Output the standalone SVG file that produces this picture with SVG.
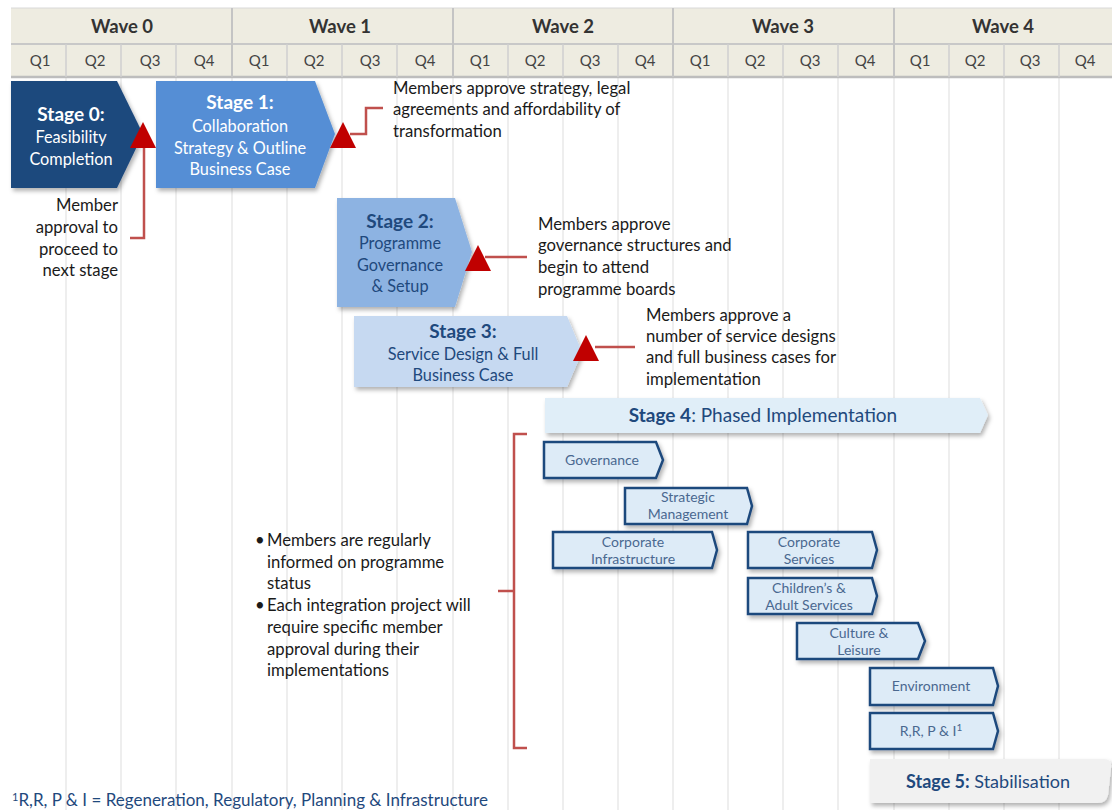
<svg xmlns="http://www.w3.org/2000/svg" width="1112" height="810" viewBox="0 0 1112 810">
<defs>
<filter id="sh" x="-10%" y="-10%" width="130%" height="140%">
<feDropShadow dx="2" dy="3" stdDeviation="2" flood-color="#000" flood-opacity="0.3"/>
</filter>
<symbol id="tri" overflow="visible"><polygon points="-13,13 13,13 0,-13" fill="#C00000"/></symbol>
</defs>
<style>
text{font-family:Lato,"Liberation Sans",sans-serif}
.wave{font-size:18.5px;font-weight:bold;fill:#333;text-anchor:middle}
.q{font-size:15px;fill:#444;text-anchor:middle}
.hdr{fill:#EEECE1}
.qsep{stroke:#CFCFCF;stroke-width:1.5}
.wsep{stroke:#C4C4C4;stroke-width:2}
.grid{stroke:#E9E9E9;stroke-width:1.5}
.st-w{fill:#fff;text-anchor:middle;font-size:16.3px}
.st-b{fill:#1F497D;text-anchor:middle;font-size:16.3px}
.bold{font-weight:bold;font-size:19px}
.note{fill:#1a1a1a;font-size:16.7px}
.sb{fill:#DDEBF7;stroke:#1F497D;stroke-width:2.5;filter:url(#sh)}
.sbt{fill:#4A6890;font-size:14px;text-anchor:middle}
.red{stroke:#C0504D;stroke-width:2.5;fill:none}
</style>
<rect width="1112" height="810" fill="#fff"/>
<g id="grid">
<line class="grid" x1="66" y1="77" x2="66" y2="810"/><line class="grid" x1="121" y1="77" x2="121" y2="810"/><line class="grid" x1="176" y1="77" x2="176" y2="810"/><line class="grid" x1="232" y1="77" x2="232" y2="810"/><line class="grid" x1="287" y1="77" x2="287" y2="810"/><line class="grid" x1="342" y1="77" x2="342" y2="810"/><line class="grid" x1="397" y1="77" x2="397" y2="810"/><line class="grid" x1="453" y1="77" x2="453" y2="810"/><line class="grid" x1="508" y1="77" x2="508" y2="810"/><line class="grid" x1="563" y1="77" x2="563" y2="810"/><line class="grid" x1="618" y1="77" x2="618" y2="810"/><line class="grid" x1="673" y1="77" x2="673" y2="810"/><line class="grid" x1="728" y1="77" x2="728" y2="810"/><line class="grid" x1="783" y1="77" x2="783" y2="810"/><line class="grid" x1="838" y1="77" x2="838" y2="810"/><line class="grid" x1="894" y1="77" x2="894" y2="810"/><line class="grid" x1="949" y1="77" x2="949" y2="810"/><line class="grid" x1="1004" y1="77" x2="1004" y2="810"/><line class="grid" x1="1059" y1="77" x2="1059" y2="810"/>
</g>
<g id="header">
<rect class="hdr" x="11" y="8" width="1101" height="69"/>
<line x1="11" y1="8" x2="1112" y2="8" stroke="#D8D8D8" stroke-width="1"/>
<line x1="11" y1="44" x2="1112" y2="44" stroke="#C8C8C8" stroke-width="2"/>
<line x1="11" y1="77" x2="1112" y2="77" stroke="#BDBDBD" stroke-width="2.5"/>
<g>
<line class="qsep" x1="66" y1="44" x2="66" y2="77"/><line class="qsep" x1="121" y1="44" x2="121" y2="77"/><line class="qsep" x1="176" y1="44" x2="176" y2="77"/><line class="qsep" x1="287" y1="44" x2="287" y2="77"/><line class="qsep" x1="342" y1="44" x2="342" y2="77"/><line class="qsep" x1="397" y1="44" x2="397" y2="77"/><line class="qsep" x1="508" y1="44" x2="508" y2="77"/><line class="qsep" x1="563" y1="44" x2="563" y2="77"/><line class="qsep" x1="618" y1="44" x2="618" y2="77"/><line class="qsep" x1="728" y1="44" x2="728" y2="77"/><line class="qsep" x1="783" y1="44" x2="783" y2="77"/><line class="qsep" x1="838" y1="44" x2="838" y2="77"/><line class="qsep" x1="949" y1="44" x2="949" y2="77"/><line class="qsep" x1="1004" y1="44" x2="1004" y2="77"/><line class="qsep" x1="1059" y1="44" x2="1059" y2="77"/>
<line class="wsep" x1="232" y1="8" x2="232" y2="77"/><line class="wsep" x1="453" y1="8" x2="453" y2="77"/><line class="wsep" x1="673" y1="8" x2="673" y2="77"/><line class="wsep" x1="894" y1="8" x2="894" y2="77"/>
</g>
<text class="wave" x="122" y="33">Wave 0</text>
<text class="wave" x="340" y="33">Wave 1</text>
<text class="wave" x="563" y="33">Wave 2</text>
<text class="wave" x="783" y="33">Wave 3</text>
<text class="wave" x="1003" y="33">Wave 4</text>
<text class="q" x="40" y="66">Q1</text><text class="q" x="95" y="66">Q2</text><text class="q" x="150" y="66">Q3</text><text class="q" x="204" y="66">Q4</text>
<text class="q" x="259" y="66">Q1</text><text class="q" x="314" y="66">Q2</text><text class="q" x="370" y="66">Q3</text><text class="q" x="425" y="66">Q4</text>
<text class="q" x="480" y="66">Q1</text><text class="q" x="535" y="66">Q2</text><text class="q" x="590" y="66">Q3</text><text class="q" x="645" y="66">Q4</text>
<text class="q" x="700" y="66">Q1</text><text class="q" x="755" y="66">Q2</text><text class="q" x="810" y="66">Q3</text><text class="q" x="865" y="66">Q4</text>
<text class="q" x="920" y="66">Q1</text><text class="q" x="975" y="66">Q2</text><text class="q" x="1030" y="66">Q3</text><text class="q" x="1085" y="66">Q4</text>
</g>

<g id="stage0">
<path d="M11,81 H117 L143,134 L117,188 H11 Z" fill="#1F497D" filter="url(#sh)"/>
<text class="st-w" x="71" y="121"><tspan class="bold">Stage 0:</tspan></text>
<text class="st-w" x="71" y="143">Feasibility</text>
<text class="st-w" x="71" y="165">Completion</text>
</g>
<g id="stage1">
<path d="M156,81 H315 L335,134 L315,188 H156 Z" fill="#558ED5" filter="url(#sh)"/>
<text class="st-w" x="240" y="109"><tspan class="bold">Stage 1:</tspan></text>
<text class="st-w" x="240" y="132">Collaboration</text>
<text class="st-w" x="240" y="154">Strategy &amp; Outline</text>
<text class="st-w" x="240" y="175">Business Case</text>
</g>
<g id="stage2">
<path d="M337,198 H455 L472,252 L455,307 H337 Z" fill="#8DB3E2" filter="url(#sh)"/>
<text class="st-b" x="400" y="228"><tspan class="bold">Stage 2:</tspan></text>
<text class="st-b" x="400" y="249">Programme</text>
<text class="st-b" x="400" y="271">Governance</text>
<text class="st-b" x="400" y="292">&amp; Setup</text>
</g>
<g id="stage3">
<path d="M354,316 H567 L582,352 L567,387 H354 Z" fill="#C6D9F1" filter="url(#sh)"/>
<text class="st-b" x="463" y="338"><tspan class="bold">Stage 3:</tspan></text>
<text class="st-b" x="463" y="360">Service Design &amp; Full</text>
<text class="st-b" x="463" y="381">Business Case</text>
</g>
<g id="stage4">
<path d="M545,398 H980 L988,415 L980,433 H545 Z" fill="#E0EEF8" filter="url(#sh)"/>
<text class="st-b" x="763" y="422" style="font-size:19px"><tspan font-weight="bold">Stage 4</tspan>: Phased Implementation</text>
</g>

<g id="governance"><path class="sb" d="M544,442 H656 L663,460 L656,478 H544 Z"/><text class="sbt" x="602" y="465">Governance</text></g>
<g id="strategic-management"><path class="sb" d="M625,488 H747 L752,506 L747,524 H625 Z"/><text class="sbt" x="688" y="502">Strategic</text><text class="sbt" x="688" y="519">Management</text></g>
<g id="corporate-infrastructure"><path class="sb" d="M553,532 H712 L717,550 L712,568 H553 Z"/><text class="sbt" x="633" y="547">Corporate</text><text class="sbt" x="633" y="564">Infrastructure</text></g>
<g id="corporate-services"><path class="sb" d="M748,532 H872 L877,550 L872,568 H748 Z"/><text class="sbt" x="809" y="547">Corporate</text><text class="sbt" x="809" y="564">Services</text></g>
<g id="childrens-adult"><path class="sb" d="M748,578 H872 L877,596 L872,614 H748 Z"/><text class="sbt" x="809" y="593">Children’s &amp;</text><text class="sbt" x="809" y="610">Adult Services</text></g>
<g id="culture-leisure"><path class="sb" d="M797,623 H918 L925,641 L918,659 H797 Z"/><text class="sbt" x="859" y="638">Culture &amp;</text><text class="sbt" x="859" y="655">Leisure</text></g>
<g id="environment"><path class="sb" d="M870,668 H993 L998,686 L993,705 H870 Z"/><text class="sbt" x="931" y="691">Environment</text></g>
<g id="rrpi"><path class="sb" d="M870,713 H993 L998,731 L993,749 H870 Z"/><text class="sbt" x="931" y="736">R,R, P &amp; I<tspan font-size="10" dy="-5">1</tspan></text></g>
<g id="stage5">
<path d="M870,759 H1104 Q1112,759 1111,768 L1108,795 Q1106,803 1098,803 H870 Z" fill="#F1F1F1" filter="url(#sh)"/>
<text x="988" y="788" style="font-size:18px;fill:#1F497D;text-anchor:middle"><tspan font-weight="bold">Stage 5:</tspan> Stabilisation</text>
</g>

<g id="connectors">
<path class="red" d="M144,148 V238 H130"/>
<path class="red" d="M350,134 H366 V108 H383"/>
<path class="red" d="M485,257 H527"/>
<path class="red" d="M595,347 H635"/>
<path class="red" d="M527,434 H514 V591 H498 M514,591 V748 H527"/>
<use href="#tri" x="143" y="135"/>
<use href="#tri" x="343" y="135"/>
<use href="#tri" x="478" y="258"/>
<use href="#tri" x="586" y="348"/>
</g>

<g id="note-stage0">
<text class="note" text-anchor="end" x="118" y="211">Member</text>
<text class="note" text-anchor="end" x="118" y="233">approval to</text>
<text class="note" text-anchor="end" x="118" y="255">proceed to</text>
<text class="note" text-anchor="end" x="118" y="276">next stage</text>
</g>
<g id="note-stage1">
<text class="note" x="393" y="94">Members approve strategy, legal</text>
<text class="note" x="393" y="115">agreements and affordability of</text>
<text class="note" x="393" y="137">transformation</text>
</g>
<g id="note-stage2">
<text class="note" x="538" y="230">Members approve</text>
<text class="note" x="538" y="251">governance structures and</text>
<text class="note" x="538" y="273">begin to attend</text>
<text class="note" x="538" y="295">programme boards</text>
</g>
<g id="note-stage3">
<text class="note" x="646" y="321">Members approve a</text>
<text class="note" x="646" y="342">number of service designs</text>
<text class="note" x="646" y="363">and full business cases for</text>
<text class="note" x="646" y="385">implementation</text>
</g>
<g id="note-bullets">
<text class="note" x="255" y="546">•</text>
<text class="note" x="267" y="546">Members are regularly</text>
<text class="note" x="267" y="568">informed on programme</text>
<text class="note" x="267" y="589">status</text>
<text class="note" x="255" y="611">•</text>
<text class="note" x="267" y="611">Each integration project will</text>
<text class="note" x="267" y="633">require specific member</text>
<text class="note" x="267" y="655">approval during their</text>
<text class="note" x="267" y="676">implementations</text>
</g>
<g id="footnote">
<text x="12" y="806" style="font-size:17px;fill:#1F497D"><tspan font-size="11" dy="-5">1</tspan><tspan dy="5">R,R, P &amp; I = Regeneration, Regulatory, Planning &amp; Infrastructure</tspan></text>
</g>
</svg>
